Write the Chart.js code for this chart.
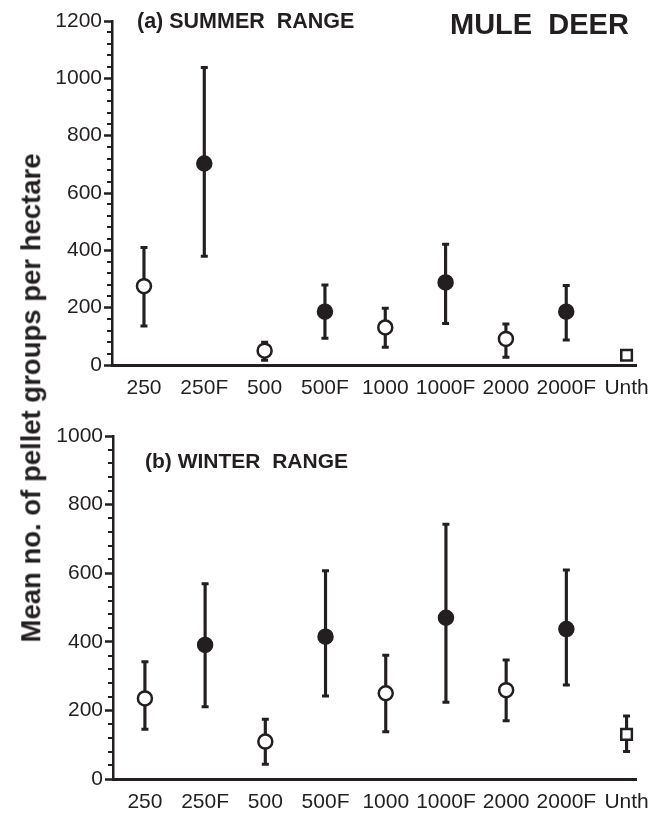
<!DOCTYPE html>
<html>
<head>
<meta charset="utf-8">
<script src="https://cdn.jsdelivr.net/npm/chart.js@4.4.0/dist/chart.umd.min.js"></script>
<style>
  html, body { margin: 0; padding: 0; background: #fff; }
  #wrap { position: relative; width: 660px; height: 813px; font-family: "Liberation Sans", Arial, sans-serif; color: #231f20; }
  canvas { position: absolute; left: 0; }
  #top { top: 0; }
  #bottom { top: 400px; }
  .lbl { position: absolute; font-weight: bold; white-space: pre; line-height: 1; }
  #ytitle { position: absolute; left: 31px; top: 398px; font-weight: bold; font-size: 27.5px; line-height: 1;
            white-space: nowrap; transform: translate(-50%, -50%) rotate(-90deg); }
</style>
</head>
<body>
<div id="wrap">
  <canvas id="top" width="660" height="400"></canvas>
  <canvas id="bottom" width="660" height="413"></canvas>
  <div class="lbl" style="left:137px; top:11px; font-size:21.5px;">(a) SUMMER  RANGE</div>
  <div class="lbl" style="left:450px; top:10px; font-size:29px;">MULE  DEER</div>
  <div class="lbl" style="left:145px; top:450px; font-size:21px;">(b) WINTER  RANGE</div>
  <div id="ytitle">Mean no. of pellet groups per hectare</div>
</div>
<script>
// data
const categories = ["250", "250F", "500", "500F", "1000", "1000F", "2000", "2000F", "Unth"];

const summerMean = [275, 703, 50, 186, 131, 288, 91, 186, 34];
const summerLow  = [136, 379, 17, 93, 62, 145, 27, 87, 22];
const summerHigh = [410, 1038, 79, 279, 198, 421, 143, 277, 46];

const winterMean = [235, 391, 109, 415, 250, 470, 259, 437, 130];
const winterLow  = [145, 211, 43, 242, 138, 224, 170, 274, 80];
const winterHigh = [342, 569, 174, 607, 361, 743, 347, 609, 184];

const summerTicks = [0, 200, 400, 600, 800, 1000, 1200];
const winterTicks = [0, 200, 400, 600, 800, 1000];

const ink = "#231f20";

// small ticks every 40 between the labelled ones
const minorTicks = {
    id: "minorTicks",
    afterDraw(chart) {
        const y = chart.scales.y;
        const ctx = chart.ctx;
        const x0 = chart.chartArea.left;
        ctx.save();
        ctx.strokeStyle = ink;
        ctx.lineWidth = 2;
        for (let v = y.min; v <= y.max; v += 40) {
            if (v % 200 === 0) continue;
            const py = Math.round(y.getPixelForValue(v));
            ctx.beginPath();
            ctx.moveTo(x0 - 5, py);
            ctx.lineTo(x0, py);
            ctx.stroke();
        }
        ctx.restore();
    }
};

function makeChart(id, mean, low, high, yTicks, padTop, yWidth, xHeight) {
    const filled = categories.map(c => c.endsWith("F"));
    return new Chart(document.getElementById(id).getContext("2d"), {
        type: "scatter",
        data: {
            datasets: [
                {
                    type: "bar",
                    data: categories.map((c, i) => ({ x: i, y: [low[i], high[i]] })),
                    backgroundColor: ink,
                    borderWidth: 0,
                    barThickness: 2.5,
                    order: 3
                },
                {
                    data: categories.flatMap((c, i) => [{ x: i, y: low[i] }, { x: i, y: high[i] }]),
                    pointStyle: "line",
                    pointRadius: 3.5,
                    pointBorderWidth: 3,
                    pointBorderColor: ink,
                    order: 2
                },
                {
                    data: categories.map((c, i) => ({ x: i, y: mean[i] })),
                    pointStyle: categories.map(c => c === "Unth" ? "rect" : "circle"),
                    pointRadius: categories.map(c => c === "Unth" ? 7.5 : 7),
                    pointBackgroundColor: filled.map(f => f ? ink : "#fff"),
                    pointBorderColor: ink,
                    pointBorderWidth: 2.5,
                    order: 1
                }
            ]
        },
        options: {
            responsive: false,
            animation: false,
            layout: { padding: { top: padTop, right: 13, left: 0, bottom: 0 } },
            plugins: { legend: { display: false }, tooltip: { enabled: false } },
            scales: {
                x: {
                    type: "linear",
                    offset: false,
                    min: -0.53,
                    max: 8.17,
                    afterBuildTicks: s => { s.ticks = categories.map((c, i) => ({ value: i })); },
                    afterFit: s => { s.height = xHeight; },
                    grid: { display: false, drawTicks: false },
                    border: { display: true, width: 3, color: ink },
                    ticks: {
                        autoSkip: false, maxRotation: 0, padding: 11, color: ink,
                        font: { family: "Liberation Sans", size: 21 },
                        callback: v => categories[v]
                    }
                },
                y: {
                    min: 0,
                    max: yTicks[yTicks.length - 1],
                    afterBuildTicks: s => { s.ticks = yTicks.map(v => ({ value: v })); },
                    afterFit: s => { s.width = yWidth; },
                    grid: { drawOnChartArea: false, drawTicks: true, tickLength: 8, tickWidth: 2.5, tickColor: ink },
                    border: { display: true, width: 2.5, color: ink },
                    ticks: {
                        padding: 2, color: ink,
                        font: { family: "Liberation Sans", size: 21 },
                        callback: v => String(v)
                    }
                }
            }
        },
        plugins: [minorTicks]
    });
}

makeChart("top", summerMean, summerLow, summerHigh, summerTicks, 21, 112, 35);
makeChart("bottom", winterMean, winterLow, winterHigh, winterTicks, 36, 113, 34);
</script>
</body>
</html>
